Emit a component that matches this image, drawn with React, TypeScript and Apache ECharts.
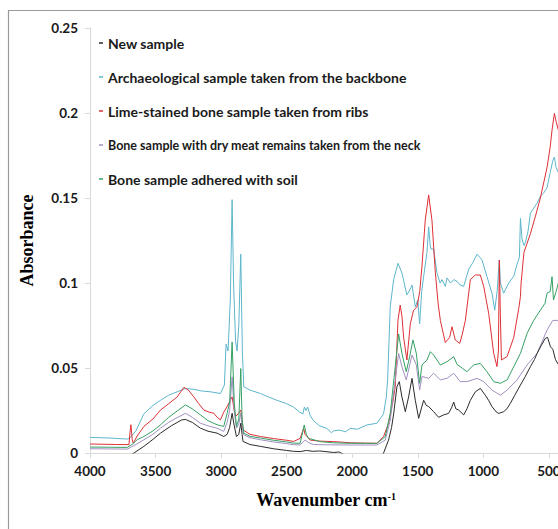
import React, { useEffect, useRef } from "react";
import * as echarts from "echarts";

const seriesNames = [
  "New sample",
  "Archaeological sample taken from the backbone",
  "Lime-stained bone sample taken from ribs",
  "Bone sample with dry meat remains taken from the neck",
  "Bone sample adhered with soil",
];

const seriesColors = ["#2b2b2b", "#5db6cb", "#dc3036", "#a28fc2", "#34a064"];

const xTicks = [4000, 3500, 3000, 2500, 2000, 1500, 1000, 500];

// [wavenumber cm-1, absorbance]
const newSample: [number, number][] = [
  [4000, -0.004], [3700, -0.002], [3665, 0.0], [3589, 0.0039], [3520, 0.008], [3462, 0.0117],
  [3380, 0.016], [3300, 0.0195], [3270, 0.0197], [3220, 0.018], [3157, 0.0146], [3100, 0.0128],
  [3031, 0.0117], [2980, 0.0097], [2954, 0.011], [2935, 0.015], [2916, 0.0234], [2900, 0.016],
  [2883, 0.0097], [2865, 0.011], [2850, 0.0175], [2840, 0.011], [2833, 0.0068], [2780, 0.005],
  [2700, 0.0039], [2600, 0.0025], [2500, 0.0015], [2447, 0.001], [2397, 0.0008], [2350, 0.0015],
  [2300, 0.001], [2250, 0.0012], [2200, 0.0008], [2142, 0.0003], [2100, 0.0006], [2041, -0.0018],
  [1900, -0.006], [1800, -0.005], [1761, 0.0], [1723, 0.0076], [1700, 0.015], [1684, 0.023],
  [1659, 0.039], [1641, 0.042], [1621, 0.033], [1595, 0.0243], [1570, 0.033], [1544, 0.0439],
  [1519, 0.031], [1493, 0.0204], [1470, 0.027], [1455, 0.031], [1435, 0.028], [1417, 0.0273],
  [1379, 0.0243], [1341, 0.021], [1303, 0.0224], [1265, 0.0233], [1240, 0.027], [1226, 0.03],
  [1210, 0.026], [1188, 0.0253], [1150, 0.0224], [1125, 0.026], [1099, 0.031], [1061, 0.036],
  [1023, 0.038], [985, 0.034], [960, 0.031], [934, 0.0273], [900, 0.024], [883, 0.0233],
  [845, 0.0243], [820, 0.026], [794, 0.0292], [760, 0.034], [717, 0.04], [680, 0.045],
  [641, 0.0508], [610, 0.055], [590, 0.0586], [560, 0.063], [527, 0.0675], [510, 0.068],
  [488, 0.0625], [470, 0.061], [450, 0.055], [428, 0.052], [400, 0.05],
];

const backboneSample: [number, number][] = [
  [4000, 0.0092], [3850, 0.0088], [3720, 0.0082], [3700, 0.0085], [3650, 0.013], [3589, 0.023],
  [3520, 0.028], [3462, 0.031], [3400, 0.034], [3335, 0.036], [3272, 0.038], [3208, 0.0374],
  [3150, 0.0365], [3081, 0.036], [3005, 0.035], [2975, 0.04], [2962, 0.064], [2947, 0.06],
  [2930, 0.09], [2916, 0.149], [2905, 0.1], [2890, 0.066], [2878, 0.06], [2865, 0.075],
  [2850, 0.117], [2838, 0.06], [2827, 0.039], [2780, 0.037], [2700, 0.035], [2640, 0.033],
  [2574, 0.031], [2500, 0.029], [2447, 0.027], [2400, 0.024], [2376, 0.023], [2365, 0.027],
  [2352, 0.025], [2340, 0.027], [2320, 0.022], [2295, 0.019], [2250, 0.016], [2193, 0.0145],
  [2160, 0.012], [2142, 0.013], [2100, 0.0135], [2050, 0.0125], [2015, 0.0145], [1960, 0.014],
  [1888, 0.0165], [1812, 0.0175], [1761, 0.023], [1740, 0.033], [1730, 0.043], [1710, 0.086],
  [1684, 0.102], [1651, 0.1116], [1621, 0.106], [1583, 0.093], [1560, 0.096], [1544, 0.0988],
  [1519, 0.086], [1500, 0.09], [1486, 0.076], [1470, 0.095], [1455, 0.104], [1430, 0.118],
  [1417, 0.133], [1405, 0.122], [1399, 0.12], [1379, 0.12], [1354, 0.106], [1330, 0.1],
  [1315, 0.102], [1290, 0.098], [1277, 0.103], [1250, 0.1], [1226, 0.102], [1201, 0.101],
  [1180, 0.099], [1150, 0.098], [1112, 0.108], [1080, 0.112], [1048, 0.117], [1010, 0.1135],
  [972, 0.1037], [934, 0.094], [913, 0.084], [895, 0.095], [878, 0.1135], [870, 0.1],
  [845, 0.094], [806, 0.1], [768, 0.104], [743, 0.111], [725, 0.115], [717, 0.138],
  [705, 0.126], [690, 0.122], [679, 0.124], [660, 0.13], [641, 0.141], [616, 0.144],
  [590, 0.147], [565, 0.151], [540, 0.153], [514, 0.156], [490, 0.165], [470, 0.172],
  [458, 0.174], [445, 0.168], [428, 0.165], [400, 0.16],
];

const ribsSample: [number, number][] = [
  [4000, 0.0053], [3800, 0.005], [3703, 0.0049], [3695, 0.012], [3688, 0.0166], [3678, 0.008],
  [3670, 0.0058], [3640, 0.01], [3589, 0.0156], [3520, 0.02], [3462, 0.0253], [3400, 0.029],
  [3335, 0.033], [3284, 0.0386], [3250, 0.037], [3208, 0.033], [3170, 0.029], [3132, 0.0253],
  [3090, 0.024], [3056, 0.0234], [3030, 0.021], [3005, 0.0195], [2980, 0.024], [2954, 0.0273],
  [2930, 0.031], [2916, 0.033], [2900, 0.025], [2891, 0.0214], [2870, 0.023], [2850, 0.0253],
  [2840, 0.02], [2833, 0.0136], [2780, 0.011], [2700, 0.0097], [2600, 0.0085], [2500, 0.0075],
  [2447, 0.0068], [2397, 0.0086], [2370, 0.0145], [2360, 0.011], [2345, 0.0097], [2321, 0.0076],
  [2250, 0.007], [2142, 0.0067], [2100, 0.0065], [2015, 0.006], [1900, 0.0058], [1812, 0.0057],
  [1761, 0.0096], [1723, 0.0175], [1690, 0.03], [1672, 0.039], [1651, 0.078], [1634, 0.087],
  [1620, 0.08], [1608, 0.068], [1583, 0.0547], [1557, 0.076], [1532, 0.084], [1506, 0.086],
  [1485, 0.095], [1468, 0.11], [1443, 0.137], [1417, 0.1518], [1392, 0.137], [1366, 0.106],
  [1345, 0.088], [1328, 0.078], [1290, 0.065], [1257, 0.068], [1239, 0.0743], [1214, 0.0665],
  [1180, 0.0645], [1160, 0.07], [1137, 0.078], [1099, 0.102], [1061, 0.1047], [1023, 0.1047],
  [997, 0.098], [959, 0.082], [921, 0.0586], [896, 0.0508], [885, 0.06], [878, 0.1135],
  [870, 0.08], [862, 0.0547], [819, 0.0567], [768, 0.068], [730, 0.085], [717, 0.092],
  [712, 0.1], [690, 0.118], [641, 0.129], [600, 0.14], [565, 0.15], [514, 0.168],
  [490, 0.18], [476, 0.19], [458, 0.1998], [445, 0.195], [428, 0.19], [400, 0.185],
];

const neckSample: [number, number][] = [
  [4000, 0.0025], [3850, 0.0024], [3716, 0.0023], [3650, 0.005], [3589, 0.0078], [3520, 0.011],
  [3462, 0.0146], [3400, 0.018], [3330, 0.021], [3272, 0.0234], [3220, 0.021], [3157, 0.0175],
  [3100, 0.016], [3031, 0.0146], [2980, 0.0127], [2954, 0.018], [2935, 0.025], [2916, 0.0448],
  [2900, 0.025], [2883, 0.0146], [2865, 0.017], [2850, 0.0234], [2840, 0.015], [2827, 0.0107],
  [2780, 0.009], [2700, 0.0078], [2600, 0.0065], [2500, 0.0055], [2447, 0.0049], [2397, 0.0047],
  [2359, 0.0076], [2330, 0.006], [2295, 0.005], [2200, 0.0048], [2015, 0.0047], [1900, 0.0047],
  [1812, 0.0047], [1748, 0.0076], [1710, 0.0194], [1672, 0.043], [1646, 0.0586], [1621, 0.0508],
  [1588, 0.043], [1544, 0.0576], [1511, 0.0518], [1486, 0.037], [1468, 0.045], [1417, 0.0439],
  [1379, 0.0469], [1328, 0.043], [1277, 0.0439], [1226, 0.0469], [1176, 0.042], [1125, 0.042],
  [1048, 0.0439], [997, 0.042], [934, 0.037], [870, 0.034], [819, 0.037], [743, 0.043],
  [666, 0.0518], [590, 0.0586], [514, 0.0723], [470, 0.078], [437, 0.078], [400, 0.077],
];

const soilSample: [number, number][] = [
  [4000, 0.0035], [3850, 0.0034], [3716, 0.0033], [3680, 0.005], [3640, 0.0078], [3589, 0.0097],
  [3520, 0.013], [3462, 0.0166], [3400, 0.021], [3330, 0.025], [3272, 0.0283], [3220, 0.026],
  [3157, 0.0224], [3100, 0.019], [3031, 0.0166], [2980, 0.0156], [2954, 0.0234], [2935, 0.03],
  [2916, 0.0653], [2900, 0.03], [2883, 0.0156], [2865, 0.02], [2850, 0.0497], [2840, 0.02],
  [2827, 0.0117], [2780, 0.0098], [2700, 0.0088], [2600, 0.0075], [2500, 0.0065], [2447, 0.0058],
  [2397, 0.0057], [2366, 0.0165], [2350, 0.011], [2333, 0.0086], [2244, 0.0067], [2150, 0.006],
  [2015, 0.0057], [1900, 0.0057], [1812, 0.0057], [1748, 0.0096], [1710, 0.0233], [1672, 0.0508],
  [1646, 0.07], [1621, 0.0586], [1588, 0.0478], [1562, 0.0567], [1537, 0.0665], [1511, 0.0586],
  [1486, 0.041], [1468, 0.0518], [1430, 0.0547], [1404, 0.0596], [1379, 0.0576], [1328, 0.0518],
  [1277, 0.0537], [1226, 0.0567], [1200, 0.052], [1176, 0.0508], [1125, 0.0478], [1074, 0.0518],
  [1023, 0.0527], [972, 0.0478], [921, 0.042], [870, 0.041], [819, 0.043], [768, 0.0508],
  [717, 0.0586], [666, 0.0704], [616, 0.078], [565, 0.084], [530, 0.088], [514, 0.094],
  [490, 0.095], [476, 0.1037], [465, 0.09], [445, 0.095], [428, 0.1], [400, 0.098],
];

const seriesData = [newSample, backboneSample, ribsSample, neckSample, soilSample];

export default function App() {
  const ref = useRef<HTMLDivElement>(null);

  useEffect(() => {
    if (!ref.current) return;
    const chart = echarts.init(ref.current, undefined, { renderer: "svg" });
    const sansFont = "Lato";
    const option = {
      animation: false,
      backgroundColor: "#ffffff",
      grid: {
        left: 90,
        top: 28,
        width: 472,
        height: 425,
        containLabel: false,
        outerBoundsMode: "none",
      },
      legend: {
        orient: "vertical",
        left: 99,
        top: 36,
        padding: 0,
        itemWidth: 4,
        itemHeight: 1.5,
        itemGap: 20,
        icon: "rect",
        selectedMode: false,
        textStyle: {
          fontFamily: sansFont,
          fontWeight: "bold",
          fontSize: 14,
          color: "#1a1a1a",
          lineHeight: 14,
        },
        data: seriesNames.map((n, i) => ({
          name: n,
          textStyle: i === 3 ? { fontSize: 12.5, lineHeight: 14 } : undefined,
        })),
      },
      xAxis: {
        type: "value",
        min: 400,
        max: 4000,
        inverse: true,
        name: "Wavenumber cm{sup|-1}",
        nameLocation: "middle",
        nameGap: 38,
        nameTextStyle: {
          fontFamily: "Liberation Serif",
          fontWeight: "bold",
          fontSize: 18,
          color: "#000",
          rich: {
            sup: {
              fontFamily: "Liberation Serif",
              fontWeight: "bold",
              fontSize: 10,
              verticalAlign: "top",
              color: "#000",
            },
          },
        },
        axisLine: { show: true, lineStyle: { color: "#d9d9d9", width: 1 } },
        axisTick: { show: true, length: 5, lineStyle: { color: "#d9d9d9" }, customValues: xTicks },
        axisLabel: {
          customValues: xTicks,
          formatter: (v: number) => String(v),
          fontFamily: sansFont,
          fontWeight: "bold",
          fontSize: 13.5,
          color: "#1a1a1a",
          margin: 11,
        },
        splitLine: { show: false },
      },
      yAxis: {
        type: "value",
        min: 0,
        max: 0.25,
        interval: 0.05,
        name: "Absorbance",
        nameLocation: "middle",
        nameGap: 54,
        nameTextStyle: {
          fontFamily: "Liberation Serif",
          fontWeight: "bold",
          fontSize: 18,
          color: "#000",
        },
        axisLine: { show: true, lineStyle: { color: "#d9d9d9", width: 1 } },
        axisTick: { show: true, length: 5, lineStyle: { color: "#d9d9d9" } },
        axisLabel: {
          fontFamily: sansFont,
          fontWeight: "bold",
          fontSize: 13.5,
          color: "#1a1a1a",
          margin: 12,
        },
        splitLine: { show: false },
      },
      graphic: [
        {
          type: "rect",
          silent: true,
          z: 100,
          shape: { x: 8.5, y: 10.5, width: 900, height: 900 },
          style: { fill: "none", stroke: "#9a9a9a", lineWidth: 1.2 },
        },
      ],
      series: seriesNames.map((n, i) => ({
        name: n,
        type: "line",
        data: seriesData[i],
        showSymbol: false,
        symbol: "none",
        clip: true,
        lineStyle: { color: seriesColors[i], width: 1 },
        itemStyle: { color: seriesColors[i] },
        z: i === 0 ? 5 : 2 + i * 0.1,
      })),
    };
    chart.setOption(option as any);
    return () => chart.dispose();
  }, []);

  return (
    <div
      ref={ref}
      style={{ position: "fixed", left: 0, top: 0, width: 558, height: 529, background: "#fff" }}
    />
  );
}
